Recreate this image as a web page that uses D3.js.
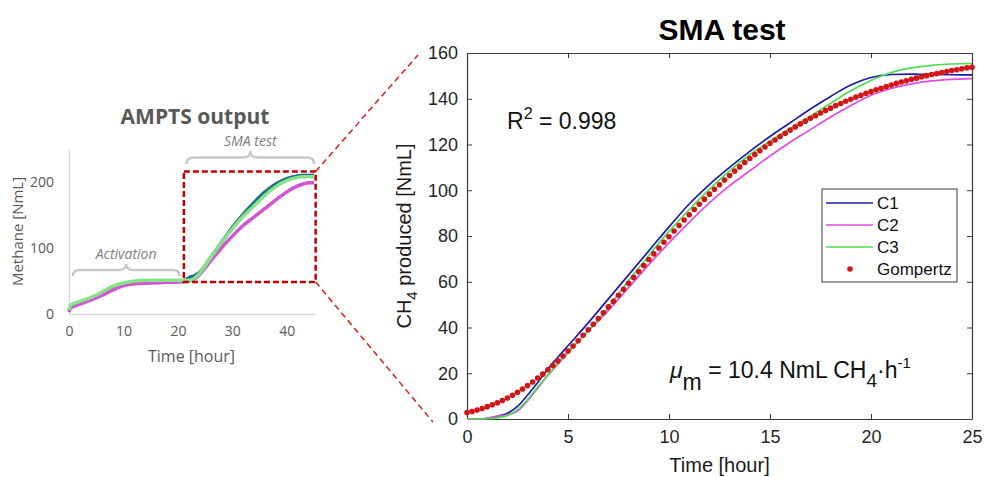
<!DOCTYPE html>
<html lang="en">
<head>
<meta charset="utf-8">
<title>SMA test</title>
<script src="https://cdn.jsdelivr.net/npm/d3@7"></script>
<style>
    body { margin: 0; background: #fff; }
    svg { display: block; }
    .sans { font-family: "Liberation Sans", Arial, sans-serif; }
    .soft { font-family: "Open Sans", "Noto Sans", sans-serif; }
</style>
</head>
<body>
<script>

    // ************** Data *****************
    // small AMPTS overview (hours, NmL)
    var leftTime = [0, 0.3, 2, 4, 6, 8, 10, 12, 15, 18, 21, 22, 23, 24, 26, 28, 30, 32, 34, 36, 38, 40, 42, 43, 44, 45];
    var leftC1 = [5, 12, 18, 24, 32, 41, 46, 49, 49, 50, 50, 55, 58, 63, 85, 108, 131, 151, 169, 185, 197, 205, 209, 210, 210, 210];
    var leftC2 = [3, 9, 15, 21, 28, 36, 43, 46, 47, 48, 49, 50, 53, 60, 80, 100, 118, 134, 147, 160, 173, 185, 194, 197, 199, 199];
    var leftC3 = [6, 13, 19, 25, 33, 42, 47, 50, 51, 51, 51, 51, 54, 62, 85, 108, 129, 148, 164, 180, 193, 202, 207, 208, 208, 208];
    var leftXTicks = [0, 10, 20, 30, 40];
    var leftYTicks = [0, 100, 200];

    // SMA test (hours, NmL)
    var smaTime = [0, 0.5, 1, 1.5, 2, 2.5, 3, 3.5, 4, 4.5, 5, 6, 7, 8, 9, 10, 11, 12, 13, 14, 15, 16, 17, 18, 19, 20, 21, 22, 23, 24, 25];
    var c1 = [0, 0, 0.2, 1.2, 2.5, 5.5, 10.5, 16, 21.8, 27, 32, 42, 52.5, 63, 73.5, 84, 94, 102.5, 110, 117, 123.5, 129.5, 135.5, 141, 146, 149.3, 150.6, 150.8, 150.6, 150.5, 150.4];
    var c2 = [0, 0, 0.3, 1.2, 1.8, 3.5, 8, 13.5, 19, 24, 29, 38.5, 47.5, 57.5, 67.5, 77, 86, 94.5, 102, 108.5, 115, 121, 126.5, 132, 137, 141.5, 144.5, 146.5, 147.8, 148.5, 148.8];
    var c3 = [0, 0, 0.1, 0.5, 1.5, 4, 8.5, 14, 19.2, 24.3, 29.5, 38.5, 49, 60.5, 71.5, 82, 91.5, 100.5, 108.5, 115.5, 121.5, 127, 132.5, 138, 143.5, 148, 151.5, 153.5, 154.6, 155.2, 155.4];

    // Gompertz fit, one point every 0.25 h from 0 to 25 h
    var gompertzStep = 0.25;
    var gompertz = [2.8, 3.3, 3.9, 4.6, 5.4, 6.2, 7.1, 8.1, 9.2, 10.4, 11.7, 13.1, 14.6, 16.2, 17.9, 19.6,
        21.5, 23.4, 25.4, 27.5, 29.7, 31.9, 34.2, 36.6, 39.0, 41.4, 43.9, 46.4, 49.0, 51.5, 54.1, 56.7,
        59.3, 61.9, 64.5, 67.1, 69.7, 72.2, 74.7, 77.3, 79.7, 82.2, 84.6, 87.0, 89.3, 91.6, 93.9, 96.1,
        98.3, 100.4, 102.4, 104.5, 106.4, 108.4, 110.2, 112.1, 113.9, 115.6, 117.3, 118.9, 120.5, 122.0,
        123.5, 124.9, 126.3, 127.7, 129.0, 130.2, 131.5, 132.6, 133.8, 134.9, 135.9, 137.0, 137.9, 138.9,
        139.8, 140.7, 141.5, 142.4, 143.1, 143.9, 144.6, 145.3, 146.0, 146.7, 147.3, 147.9, 148.5, 149.0,
        149.6, 150.1, 150.6, 151.0, 151.5, 151.9, 152.3, 152.7, 153.1, 153.5, 153.8];

    var xTicks = [0, 5, 10, 15, 20, 25];
    var yTicks = [0, 20, 40, 60, 80, 100, 120, 140, 160];
    var seriesNames = ["C1", "C2", "C3", "Gompertz"];

    var colors = {C1: "#1c1ca6", C2: "#e14be1", C3: "#4fdc4f", Gompertz: "#d41515"};
    var leftColors = {C1: "#1d6d8c", C2: "#d452d4", C3: "#86e486"};

    // ************** Canvas *****************
    var svg = d3.select("body").append("svg")
        .attr("width", 987)
        .attr("height", 477);

    // ************** Left: AMPTS output *****************
    var xL = d3.scaleLinear().domain([0, 45]).range([69, 314]);
    var yL = d3.scaleLinear().domain([0, 250]).range([314, 149]);

    var left = svg.append("g").attr("class", "soft");

    left.append("text")
        .attr("x", 195).attr("y", 124)
        .attr("text-anchor", "middle")
        .style("font-size", "21px").style("font-weight", "bold")
        .style("fill", "#595959")
        .text("AMPTS output");

    var axL = left.append("g")
        .attr("transform", "translate(" + xL(0) + ",0)")
        .call(d3.axisLeft(yL).tickValues(leftYTicks).tickSize(0).tickPadding(15));
    var axB = left.append("g")
        .attr("transform", "translate(0," + yL(0) + ")")
        .call(d3.axisBottom(xL).tickValues(leftXTicks).tickSize(0).tickPadding(12));
    [axL, axB].forEach(function(a) {
        a.select(".domain").attr("stroke", "#d9d9d9").attr("stroke-width", 1.5);
        a.selectAll("text").style("font-size", "14px").style("fill", "#595959")
            .style("font-family", "'Open Sans', sans-serif");
    });

    left.append("text")
        .attr("transform", "translate(23," + yL(125) + ") rotate(-90)")
        .attr("text-anchor", "middle")
        .style("font-size", "15px").style("fill", "#595959")
        .text("Methane [NmL]");
    left.append("text")
        .attr("x", xL(22.5)).attr("y", 362)
        .attr("text-anchor", "middle")
        .style("font-size", "16px").style("fill", "#595959")
        .text("Time [hour]");

    var lineL = function(vals) {
        return d3.line()
            .x(function(d, i) { return xL(leftTime[i]); })
            .y(function(d) { return yL(d); })
            .curve(d3.curveMonotoneX)(vals);
    };
    [["C1", leftC1], ["C2", leftC2], ["C3", leftC3]].forEach(function(s) {
        left.append("path")
            .attr("d", lineL(s[1]))
            .attr("fill", "none")
            .attr("stroke", leftColors[s[0]])
            .attr("stroke-width", 3.5)
            .attr("stroke-linejoin", "round");
    });

    // curly braces
    function brace(x1, x2, yb, yt) {
        var xm = (x1 + x2) / 2, ym = (yb + yt) / 2, r = 7;
        return "M" + x1 + "," + yb + " Q" + x1 + "," + ym + " " + (x1 + r) + "," + ym
            + " L" + (xm - r) + "," + ym + " Q" + xm + "," + ym + " " + xm + "," + yt
            + " Q" + xm + "," + ym + " " + (xm + r) + "," + ym
            + " L" + (x2 - r) + "," + ym + " Q" + x2 + "," + ym + " " + x2 + "," + yb;
    }
    left.append("path").attr("d", brace(xL(0.7), xL(20.3), 276, 264))
        .attr("fill", "none").attr("stroke", "#c8c8c8").attr("stroke-width", 2.5);
    left.append("path").attr("d", brace(xL(21.6), xL(45), 164, 151))
        .attr("fill", "none").attr("stroke", "#c8c8c8").attr("stroke-width", 2.5);
    left.append("text").attr("x", xL(10.5)).attr("y", 259)
        .attr("text-anchor", "middle").style("font-style", "italic")
        .style("font-size", "14px").style("fill", "#7f7f7f").text("Activation");
    left.append("text").attr("x", xL(33.3)).attr("y", 146)
        .attr("text-anchor", "middle").style("font-style", "italic")
        .style("font-size", "14px").style("fill", "#7f7f7f").text("SMA test");

    // zoom window
    var zx0 = xL(21.1), zx1 = xL(45.3), zy0 = yL(216), zy1 = yL(48.5);
    left.append("rect")
        .attr("x", zx0).attr("y", zy0)
        .attr("width", zx1 - zx0).attr("height", zy1 - zy0)
        .attr("fill", "none").attr("stroke", "#c00000")
        .attr("stroke-width", 2.5).attr("stroke-dasharray", "6,3");

    // ************** Right: SMA test *****************
    var xR = d3.scaleLinear().domain([0, 25]).range([467, 972]);
    var yR = d3.scaleLinear().domain([0, 160]).range([419, 53]);

    var right = svg.append("g").attr("class", "sans");

    // connectors from zoom window
    right.append("line")
        .attr("x1", zx1).attr("y1", zy0).attr("x2", xR(0) - 49).attr("y2", yR(160) + 2)
        .attr("stroke", "#d42020").attr("stroke-width", 1.5).attr("stroke-dasharray", "6,4");
    right.append("line")
        .attr("x1", zx1).attr("y1", zy1).attr("x2", xR(0) - 34).attr("y2", yR(0) + 3)
        .attr("stroke", "#d42020").attr("stroke-width", 1.5).attr("stroke-dasharray", "6,4");

    right.append("text")
        .attr("x", 722).attr("y", 40)
        .attr("text-anchor", "middle")
        .style("font-size", "30px").style("font-weight", "bold")
        .text("SMA test");

    var gB = right.append("g").attr("transform", "translate(0," + yR(0) + ")")
        .call(d3.axisBottom(xR).tickValues(xTicks).tickSize(-5).tickSizeOuter(0).tickPadding(11));
    var gT = right.append("g").attr("transform", "translate(0," + yR(160) + ")")
        .call(d3.axisTop(xR).tickValues(xTicks).tickSize(-5).tickSizeOuter(0).tickFormat(""));
    var gL = right.append("g").attr("transform", "translate(" + xR(0) + ",0)")
        .call(d3.axisLeft(yR).tickValues(yTicks).tickSize(-5).tickSizeOuter(0).tickPadding(9));
    var gR = right.append("g").attr("transform", "translate(" + xR(25) + ",0)")
        .call(d3.axisRight(yR).tickValues(yTicks).tickSize(-5).tickSizeOuter(0).tickFormat(""));
    [gB, gT, gL, gR].forEach(function(a) {
        a.select(".domain").attr("stroke", "#3a3a3a").attr("stroke-width", 1.2);
        a.selectAll(".tick line").attr("stroke", "#3a3a3a");
        a.selectAll("text").style("font-size", "18px").style("fill", "#262626")
            .style("font-family", "'Liberation Sans', Arial, sans-serif");
    });

    // axis titles
    var yl = right.append("text")
        .attr("transform", "translate(411," + yR(80) + ") rotate(-90)")
        .attr("text-anchor", "middle")
        .style("font-size", "20px").style("fill", "#1a1a1a");
    yl.append("tspan").text("CH");
    yl.append("tspan").attr("dy", 6).style("font-size", "15px").text("4");
    yl.append("tspan").attr("dy", -6).text(" produced [NmL]");

    right.append("text")
        .attr("x", xR(12.5)).attr("y", 472)
        .attr("text-anchor", "middle")
        .style("font-size", "20px").style("fill", "#1a1a1a")
        .text("Time [hour]");

    // curves
    var line = function(vals) {
        return d3.line()
            .x(function(d, i) { return xR(smaTime[i]); })
            .y(function(d) { return yR(d); })
            .curve(d3.curveMonotoneX)(vals);
    };
    [["C1", c1], ["C2", c2], ["C3", c3]].forEach(function(s) {
        right.append("path")
            .attr("d", line(s[1]))
            .attr("fill", "none")
            .attr("stroke", colors[s[0]])
            .attr("stroke-width", 1.7);
    });

    right.selectAll("circle.gomp")
        .data(gompertz)
        .enter().append("circle")
        .attr("class", "gomp")
        .attr("cx", function(d, i) { return xR(i * gompertzStep); })
        .attr("cy", function(d) { return yR(d); })
        .attr("r", 2.8)
        .attr("fill", colors.Gompertz);

    // annotations
    var r2 = right.append("text").attr("x", 507).attr("y", 129)
        .style("font-size", "23px").style("fill", "#111");
    r2.append("tspan").text("R");
    r2.append("tspan").attr("dy", -10).style("font-size", "16px").text("2");
    r2.append("tspan").attr("dy", 10).text(" = 0.998");

    var mu = right.append("text").attr("x", 670).attr("y", 378)
        .style("font-size", "23px").style("fill", "#111");
    mu.append("tspan").style("font-style", "italic").text("\u03bc");
    mu.append("tspan").attr("dy", 12).text("m");
    mu.append("tspan").attr("dy", -12).text(" = 10.4 NmL CH");
    mu.append("tspan").attr("dy", 9).style("font-size", "19px").text("4");
    mu.append("tspan").attr("dy", -9).text("\u00b7h");
    mu.append("tspan").attr("dy", -10).style("font-size", "15px").text("-1");

    // legend
    var lg = right.append("g").attr("transform", "translate(822,189)");
    lg.append("rect").attr("width", 135).attr("height", 93)
        .attr("fill", "#fff").attr("stroke", "#3a3a3a").attr("stroke-width", 1);
    seriesNames.forEach(function(name, i) {
        var yy = 14 + i * 22;
        if (name === "Gompertz") {
            lg.append("circle").attr("cx", 28).attr("cy", yy).attr("r", 2.8).attr("fill", colors[name]);
        } else {
            lg.append("line").attr("x1", 4).attr("x2", 51).attr("y1", yy).attr("y2", yy)
                .attr("stroke", colors[name]).attr("stroke-width", 1.7);
        }
        lg.append("text").attr("x", 55).attr("y", yy + 6)
            .style("font-size", "17px").style("fill", "#111").text(name);
    });

</script>
</body>
</html>
